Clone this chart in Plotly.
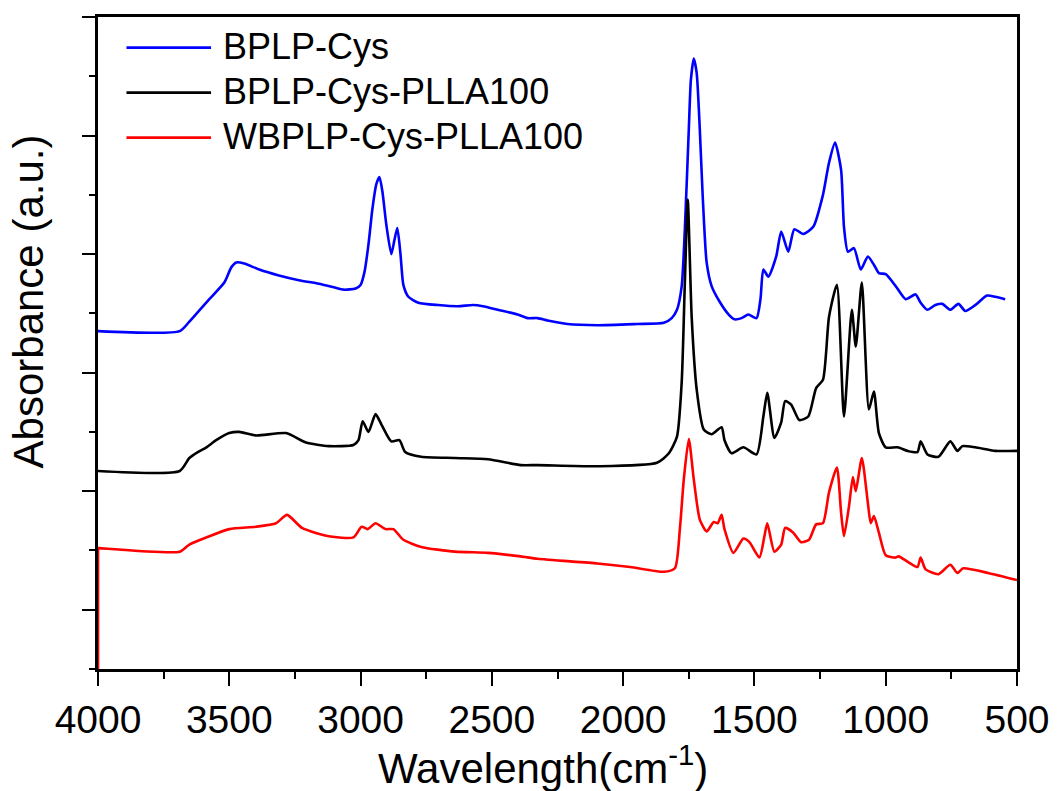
import plotly.graph_objects as go

# FTIR spectra (wavenumber in cm-1, absorbance offset per sample, a.u.)
series_names = ["BPLP-Cys", "BPLP-Cys-PLLA100", "WBPLP-Cys-PLLA100"]
series_colors = ["#0000ff", "#000000", "#ff0000"]

bplp_cys_wn = [4000, 3689, 3652, 3576, 3519, 3492, 3473, 3443, 3386, 3311, 3235, 3159,
               3102, 3064, 3019, 3000, 2985, 2970, 2955, 2940, 2928, 2917, 2902, 2883,
               2871, 2860, 2848, 2837, 2818, 2780, 2705, 2629, 2572, 2534, 2477, 2402,
               2364, 2326, 2288, 2212, 2098, 1947, 1845, 1815, 1795, 1777, 1765, 1750,
               1742, 1731, 1720, 1708, 1697, 1682, 1663, 1633, 1598, 1576, 1549, 1523,
               1492, 1477, 1466, 1447, 1417, 1398, 1371, 1348, 1314, 1276, 1239, 1216,
               1193, 1170, 1159, 1144, 1121, 1095, 1068, 1045, 1026, 1000, 962, 924,
               886, 867, 841, 811, 784, 754, 723, 697, 659, 614, 583, 545]
bplp_cys_abs = [2.35, 2.35, 2.43, 2.62, 2.76, 2.89, 2.93, 2.92, 2.87, 2.82, 2.78, 2.75,
                2.72, 2.70, 2.71, 2.74, 2.85, 3.08, 3.38, 3.59, 3.65, 3.53, 3.25, 3.00,
                3.12, 3.22, 3.00, 2.74, 2.64, 2.59, 2.57, 2.56, 2.57, 2.56, 2.53, 2.49,
                2.46, 2.46, 2.44, 2.41, 2.40, 2.41, 2.42, 2.46, 2.53, 2.73, 3.21, 4.05,
                4.47, 4.65, 4.53, 4.05, 3.49, 2.93, 2.73, 2.60, 2.49, 2.45, 2.46, 2.49,
                2.46, 2.62, 2.87, 2.81, 2.98, 3.19, 3.02, 3.21, 3.17, 3.23, 3.50, 3.77,
                3.94, 3.71, 3.23, 3.02, 3.05, 2.87, 2.98, 2.91, 2.84, 2.83, 2.73, 2.62,
                2.66, 2.59, 2.53, 2.57, 2.58, 2.53, 2.58, 2.52, 2.57, 2.65, 2.64, 2.62]

plla_wn = [4000, 3689, 3652, 3620, 3587, 3550, 3500, 3462, 3398, 3284, 3208, 3121, 3027,
           3008, 2992, 2970, 2943, 2920, 2883, 2852, 2830, 2769, 2640, 2515, 2390,
           2326, 2098, 1871, 1826, 1795, 1777, 1765, 1754, 1739, 1720, 1693, 1663,
           1625, 1614, 1587, 1542, 1492, 1466, 1451, 1424, 1398, 1383, 1360, 1329,
           1295, 1265, 1239, 1216, 1186, 1159, 1129, 1114, 1091, 1064, 1045, 1026,
           1000, 955, 917, 879, 867, 841, 799, 754, 727, 708, 659, 583, 500]
plla_abs = [1.17, 1.17, 1.28, 1.33, 1.37, 1.43, 1.49, 1.50, 1.47, 1.49, 1.41, 1.38,
            1.39, 1.43, 1.59, 1.50, 1.65, 1.56, 1.42, 1.43, 1.33, 1.29, 1.28, 1.27,
            1.22, 1.22, 1.21, 1.24, 1.32, 1.46, 1.92, 2.76, 3.46, 2.47, 1.86, 1.52,
            1.48, 1.54, 1.43, 1.32, 1.37, 1.31, 1.63, 1.83, 1.45, 1.58, 1.76, 1.73,
            1.60, 1.63, 1.87, 1.94, 2.47, 2.74, 1.63, 2.53, 2.22, 2.76, 1.69, 1.84,
            1.49, 1.37, 1.37, 1.34, 1.33, 1.42, 1.31, 1.29, 1.42, 1.34, 1.38, 1.37,
            1.34, 1.34]

# first pair is the baseline jump at the start of the scan
wbplp_wn = [4000, 4000, 3996, 3689, 3652, 3587, 3500, 3398, 3322, 3280, 3223, 3121,
            3027, 2996, 2973, 2943, 2905, 2875, 2837, 2769, 2640, 2515, 2390, 2326,
            2098, 1973, 1845, 1803, 1784, 1769, 1750, 1731, 1708, 1682, 1655, 1640,
            1625, 1614, 1580, 1542, 1519, 1481, 1462, 1451, 1424, 1398, 1383, 1352,
            1322, 1292, 1265, 1239, 1216, 1186, 1170, 1159, 1140, 1125, 1114, 1091,
            1068, 1057, 1045, 1026, 1000, 962, 951, 913, 879, 867, 848, 799,
            754, 727, 705, 610, 500]
wbplp_abs = [-0.50, 0.52, 0.52, 0.49, 0.55, 0.61, 0.68, 0.70, 0.73, 0.80, 0.69, 0.62,
             0.61, 0.70, 0.68, 0.73, 0.68, 0.68, 0.59, 0.53, 0.49, 0.48, 0.45, 0.43,
             0.39, 0.36, 0.32, 0.35, 0.68, 1.10, 1.44, 1.10, 0.76, 0.66, 0.74, 0.73,
             0.80, 0.68, 0.48, 0.60, 0.57, 0.44, 0.62, 0.73, 0.49, 0.55, 0.69, 0.65,
             0.57, 0.59, 0.72, 0.73, 0.99, 1.20, 0.82, 0.62, 0.87, 1.12, 1.00, 1.28,
             0.90, 0.73, 0.79, 0.65, 0.46, 0.44, 0.45, 0.40, 0.36, 0.44, 0.34, 0.30,
             0.38, 0.31, 0.35, 0.31, 0.25]

x_tick_values = [4000, 3500, 3000, 2500, 2000, 1500, 1000, 500]
x_tick_labels = ["4000", "3500", "3000", "2500", "2000", "1500", "1000", "500"]

FONT = "Liberation Sans, Arial, sans-serif"
LW = 2.6

fig = go.Figure()
spectra = [(series_names[0], series_colors[0], bplp_cys_wn, bplp_cys_abs),
           (series_names[1], series_colors[1], plla_wn, plla_abs)]
for name, color, wn, ab in spectra:
    fig.add_trace(go.Scatter(x=wn, y=ab, mode="lines", name=name,
                             line=dict(color=color, width=LW, shape="spline",
                                       smoothing=0.6),
                             showlegend=False))

# WBPLP: the vertical jump is drawn straight, the rest smoothed
fig.add_trace(go.Scatter(x=wbplp_wn[:2], y=wbplp_abs[:2], mode="lines",
                         name=series_names[2], showlegend=False,
                         line=dict(color=series_colors[2], width=LW)))
fig.add_trace(go.Scatter(x=wbplp_wn[1:], y=wbplp_abs[1:], mode="lines",
                         name=series_names[2], showlegend=False,
                         line=dict(color=series_colors[2], width=LW, shape="spline",
                                   smoothing=0.6)))

# Legend drawn as line samples with text labels in the upper-left corner
legend_rows = [0.953, 0.884, 0.815]
for name, color, yr in zip(series_names, series_colors, legend_rows):
    fig.add_shape(type="line", xref="paper", yref="paper",
                  x0=0.031, x1=0.123, y0=yr, y1=yr,
                  line=dict(color=color, width=LW))
    fig.add_annotation(xref="paper", yref="paper", x=0.134, y=yr + 0.002,
                       text=name, showarrow=False, xanchor="left", yanchor="middle",
                       font=dict(family=FONT, size=36, color="black"))

# Axis titles
fig.add_annotation(xref="paper", yref="paper", x=0.484, y=-0.147,
                   text="Wavelength(cm<sup>-1</sup>)", showarrow=False,
                   xanchor="center", yanchor="middle",
                   font=dict(family=FONT, size=42, color="black"))
fig.add_annotation(xref="paper", yref="paper", x=-0.076, y=0.564,
                   text="Absorbance (a.u.)", showarrow=False, textangle=-90,
                   xanchor="center", yanchor="middle",
                   font=dict(family=FONT, size=42, color="black"))

axis_common = dict(showline=True, linecolor="black", linewidth=LW, mirror=True,
                   ticks="outside", tickcolor="black", tickwidth=2.4,
                   showgrid=False, zeroline=False)

fig.update_xaxes(range=[4000, 500], tickvals=x_tick_values, ticktext=x_tick_labels,
                 ticklen=14,
                 minor=dict(dtick=250, ticks="outside", ticklen=7, tickwidth=2.4,
                            tickcolor="black", showgrid=False),
                 tickfont=dict(family=FONT, size=39, color="black"),
                 **axis_common)
fig.update_yaxes(range=[-0.5, 5], dtick=1, tick0=0, ticklen=13,
                 showticklabels=False,
                 minor=dict(dtick=0.5, ticks="outside", ticklen=6, tickwidth=2.4,
                            tickcolor="black", showgrid=False),
                 **axis_common)

fig.update_layout(width=1062, height=791,
                  margin=dict(l=98, r=40, t=17, b=122),
                  paper_bgcolor="white", plot_bgcolor="white",
                  showlegend=False)

fig.write_html("out.html")
